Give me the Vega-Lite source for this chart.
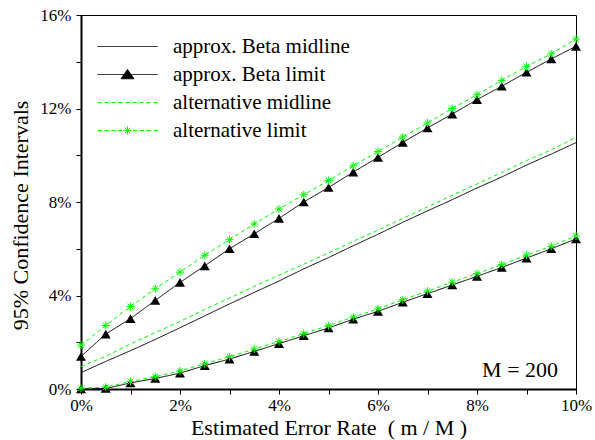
{
  "$schema": "https://vega.github.io/schema/vega-lite/v6.json",
  "width": 495,
  "height": 374,
  "autosize": {"type": "none"},
  "padding": {"left": 81, "top": 15, "right": 19, "bottom": 51},
  "background": "white",
  "config": {
    "view": {"stroke": "black", "strokeWidth": 1},
    "font": "Liberation Serif",
    "axis": {
      "grid": false,
      "domainColor": "black",
      "domainWidth": 2,
      "tickColor": "black",
      "tickWidth": 1,
      "tickSize": 5,
      "labelFont": "Liberation Serif",
      "labelFontSize": 17,
      "labelColor": "black",
      "titleFont": "Liberation Serif",
      "titleFontSize": 22,
      "titleFontWeight": "normal",
      "titleColor": "black"
    }
  },
  "datasets": {
    "curves": [
      {"x": 0, "s": "approx. Beta midline", "part": "mid", "y": 0.70},
      {"x": 0.5, "s": "approx. Beta midline", "part": "mid", "y": 1.18},
      {"x": 1, "s": "approx. Beta midline", "part": "mid", "y": 1.64},
      {"x": 1.5, "s": "approx. Beta midline", "part": "mid", "y": 2.12},
      {"x": 2, "s": "approx. Beta midline", "part": "mid", "y": 2.62},
      {"x": 2.5, "s": "approx. Beta midline", "part": "mid", "y": 3.13},
      {"x": 3, "s": "approx. Beta midline", "part": "mid", "y": 3.64},
      {"x": 3.5, "s": "approx. Beta midline", "part": "mid", "y": 4.13},
      {"x": 4, "s": "approx. Beta midline", "part": "mid", "y": 4.62},
      {"x": 4.5, "s": "approx. Beta midline", "part": "mid", "y": 5.14},
      {"x": 5, "s": "approx. Beta midline", "part": "mid", "y": 5.62},
      {"x": 5.5, "s": "approx. Beta midline", "part": "mid", "y": 6.13},
      {"x": 6, "s": "approx. Beta midline", "part": "mid", "y": 6.62},
      {"x": 6.5, "s": "approx. Beta midline", "part": "mid", "y": 7.13},
      {"x": 7, "s": "approx. Beta midline", "part": "mid", "y": 7.62},
      {"x": 7.5, "s": "approx. Beta midline", "part": "mid", "y": 8.10},
      {"x": 8, "s": "approx. Beta midline", "part": "mid", "y": 8.60},
      {"x": 8.5, "s": "approx. Beta midline", "part": "mid", "y": 9.07},
      {"x": 9, "s": "approx. Beta midline", "part": "mid", "y": 9.58},
      {"x": 9.5, "s": "approx. Beta midline", "part": "mid", "y": 10.05},
      {"x": 10, "s": "approx. Beta midline", "part": "mid", "y": 10.54},

      {"x": 0, "s": "approx. Beta limit", "part": "upper", "y": 1.39},
      {"x": 0.5, "s": "approx. Beta limit", "part": "upper", "y": 2.35},
      {"x": 1, "s": "approx. Beta limit", "part": "upper", "y": 3.01},
      {"x": 1.5, "s": "approx. Beta limit", "part": "upper", "y": 3.79},
      {"x": 2, "s": "approx. Beta limit", "part": "upper", "y": 4.56},
      {"x": 2.5, "s": "approx. Beta limit", "part": "upper", "y": 5.27},
      {"x": 3, "s": "approx. Beta limit", "part": "upper", "y": 6.00},
      {"x": 3.5, "s": "approx. Beta limit", "part": "upper", "y": 6.64},
      {"x": 4, "s": "approx. Beta limit", "part": "upper", "y": 7.30},
      {"x": 4.5, "s": "approx. Beta limit", "part": "upper", "y": 8.00},
      {"x": 5, "s": "approx. Beta limit", "part": "upper", "y": 8.62},
      {"x": 5.5, "s": "approx. Beta limit", "part": "upper", "y": 9.28},
      {"x": 6, "s": "approx. Beta limit", "part": "upper", "y": 9.91},
      {"x": 6.5, "s": "approx. Beta limit", "part": "upper", "y": 10.55},
      {"x": 7, "s": "approx. Beta limit", "part": "upper", "y": 11.17},
      {"x": 7.5, "s": "approx. Beta limit", "part": "upper", "y": 11.76},
      {"x": 8, "s": "approx. Beta limit", "part": "upper", "y": 12.38},
      {"x": 8.5, "s": "approx. Beta limit", "part": "upper", "y": 12.95},
      {"x": 9, "s": "approx. Beta limit", "part": "upper", "y": 13.55},
      {"x": 9.5, "s": "approx. Beta limit", "part": "upper", "y": 14.12},
      {"x": 10, "s": "approx. Beta limit", "part": "upper", "y": 14.66},

      {"x": 0, "s": "approx. Beta limit", "part": "lower", "y": 0.00},
      {"x": 0.5, "s": "approx. Beta limit", "part": "lower", "y": 0.02},
      {"x": 1, "s": "approx. Beta limit", "part": "lower", "y": 0.26},
      {"x": 1.5, "s": "approx. Beta limit", "part": "lower", "y": 0.45},
      {"x": 2, "s": "approx. Beta limit", "part": "lower", "y": 0.68},
      {"x": 2.5, "s": "approx. Beta limit", "part": "lower", "y": 1.00},
      {"x": 3, "s": "approx. Beta limit", "part": "lower", "y": 1.28},
      {"x": 3.5, "s": "approx. Beta limit", "part": "lower", "y": 1.61},
      {"x": 4, "s": "approx. Beta limit", "part": "lower", "y": 1.94},
      {"x": 4.5, "s": "approx. Beta limit", "part": "lower", "y": 2.28},
      {"x": 5, "s": "approx. Beta limit", "part": "lower", "y": 2.61},
      {"x": 5.5, "s": "approx. Beta limit", "part": "lower", "y": 2.99},
      {"x": 6, "s": "approx. Beta limit", "part": "lower", "y": 3.32},
      {"x": 6.5, "s": "approx. Beta limit", "part": "lower", "y": 3.71},
      {"x": 7, "s": "approx. Beta limit", "part": "lower", "y": 4.08},
      {"x": 7.5, "s": "approx. Beta limit", "part": "lower", "y": 4.45},
      {"x": 8, "s": "approx. Beta limit", "part": "lower", "y": 4.82},
      {"x": 8.5, "s": "approx. Beta limit", "part": "lower", "y": 5.20},
      {"x": 9, "s": "approx. Beta limit", "part": "lower", "y": 5.60},
      {"x": 9.5, "s": "approx. Beta limit", "part": "lower", "y": 6.00},
      {"x": 10, "s": "approx. Beta limit", "part": "lower", "y": 6.42},

      {"x": 0, "s": "alternative midline", "part": "mid", "y": 0.96},
      {"x": 0.5, "s": "alternative midline", "part": "mid", "y": 1.40},
      {"x": 1, "s": "alternative midline", "part": "mid", "y": 1.93},
      {"x": 1.5, "s": "alternative midline", "part": "mid", "y": 2.41},
      {"x": 2, "s": "alternative midline", "part": "mid", "y": 2.89},
      {"x": 2.5, "s": "alternative midline", "part": "mid", "y": 3.40},
      {"x": 3, "s": "alternative midline", "part": "mid", "y": 3.89},
      {"x": 3.5, "s": "alternative midline", "part": "mid", "y": 4.39},
      {"x": 4, "s": "alternative midline", "part": "mid", "y": 4.87},
      {"x": 4.5, "s": "alternative midline", "part": "mid", "y": 5.34},
      {"x": 5, "s": "alternative midline", "part": "mid", "y": 5.82},
      {"x": 5.5, "s": "alternative midline", "part": "mid", "y": 6.32},
      {"x": 6, "s": "alternative midline", "part": "mid", "y": 6.80},
      {"x": 6.5, "s": "alternative midline", "part": "mid", "y": 7.30},
      {"x": 7, "s": "alternative midline", "part": "mid", "y": 7.79},
      {"x": 7.5, "s": "alternative midline", "part": "mid", "y": 8.29},
      {"x": 8, "s": "alternative midline", "part": "mid", "y": 8.77},
      {"x": 8.5, "s": "alternative midline", "part": "mid", "y": 9.26},
      {"x": 9, "s": "alternative midline", "part": "mid", "y": 9.77},
      {"x": 9.5, "s": "alternative midline", "part": "mid", "y": 10.23},
      {"x": 10, "s": "alternative midline", "part": "mid", "y": 10.76},

      {"x": 0, "s": "alternative limit", "part": "upper", "y": 1.88},
      {"x": 0.5, "s": "alternative limit", "part": "upper", "y": 2.72},
      {"x": 1, "s": "alternative limit", "part": "upper", "y": 3.53},
      {"x": 1.5, "s": "alternative limit", "part": "upper", "y": 4.29},
      {"x": 2, "s": "alternative limit", "part": "upper", "y": 5.00},
      {"x": 2.5, "s": "alternative limit", "part": "upper", "y": 5.72},
      {"x": 3, "s": "alternative limit", "part": "upper", "y": 6.39},
      {"x": 3.5, "s": "alternative limit", "part": "upper", "y": 7.06},
      {"x": 4, "s": "alternative limit", "part": "upper", "y": 7.70},
      {"x": 4.5, "s": "alternative limit", "part": "upper", "y": 8.31},
      {"x": 5, "s": "alternative limit", "part": "upper", "y": 8.92},
      {"x": 5.5, "s": "alternative limit", "part": "upper", "y": 9.55},
      {"x": 6, "s": "alternative limit", "part": "upper", "y": 10.16},
      {"x": 6.5, "s": "alternative limit", "part": "upper", "y": 10.78},
      {"x": 7, "s": "alternative limit", "part": "upper", "y": 11.38},
      {"x": 7.5, "s": "alternative limit", "part": "upper", "y": 12.00},
      {"x": 8, "s": "alternative limit", "part": "upper", "y": 12.59},
      {"x": 8.5, "s": "alternative limit", "part": "upper", "y": 13.20},
      {"x": 9, "s": "alternative limit", "part": "upper", "y": 13.80},
      {"x": 9.5, "s": "alternative limit", "part": "upper", "y": 14.34},
      {"x": 10, "s": "alternative limit", "part": "upper", "y": 14.97},

      {"x": 0, "s": "alternative limit", "part": "lower", "y": 0.03},
      {"x": 0.5, "s": "alternative limit", "part": "lower", "y": 0.08},
      {"x": 1, "s": "alternative limit", "part": "lower", "y": 0.32},
      {"x": 1.5, "s": "alternative limit", "part": "lower", "y": 0.53},
      {"x": 2, "s": "alternative limit", "part": "lower", "y": 0.77},
      {"x": 2.5, "s": "alternative limit", "part": "lower", "y": 1.08},
      {"x": 3, "s": "alternative limit", "part": "lower", "y": 1.38},
      {"x": 3.5, "s": "alternative limit", "part": "lower", "y": 1.71},
      {"x": 4, "s": "alternative limit", "part": "lower", "y": 2.03},
      {"x": 4.5, "s": "alternative limit", "part": "lower", "y": 2.37},
      {"x": 5, "s": "alternative limit", "part": "lower", "y": 2.71},
      {"x": 5.5, "s": "alternative limit", "part": "lower", "y": 3.08},
      {"x": 6, "s": "alternative limit", "part": "lower", "y": 3.43},
      {"x": 6.5, "s": "alternative limit", "part": "lower", "y": 3.82},
      {"x": 7, "s": "alternative limit", "part": "lower", "y": 4.19},
      {"x": 7.5, "s": "alternative limit", "part": "lower", "y": 4.57},
      {"x": 8, "s": "alternative limit", "part": "lower", "y": 4.94},
      {"x": 8.5, "s": "alternative limit", "part": "lower", "y": 5.32},
      {"x": 9, "s": "alternative limit", "part": "lower", "y": 5.73},
      {"x": 9.5, "s": "alternative limit", "part": "lower", "y": 6.11},
      {"x": 10, "s": "alternative limit", "part": "lower", "y": 6.55}
    ],
    "note": [{"x": 8.87, "y": 0.83, "label": "M = 200"}]
  },
  "data": {"name": "curves"},
  "encoding": {
    "x": {
      "field": "x",
      "type": "quantitative",
      "scale": {"domain": [0, 10], "nice": false},
      "axis": {
        "values": [0, 1, 2, 3, 4, 5, 6, 7, 8, 9, 10],
        "labelExpr": "datum.value % 2 === 0 ? datum.value + '%' : ''",
        "labelPadding": 3,
        "labelFlush": false,
        "title": "Estimated Error Rate\u00a0\u00a0( m / M )",
        "titleY": 45,
        "titleBaseline": "alphabetic"
      }
    },
    "y": {
      "field": "y",
      "type": "quantitative",
      "scale": {"domain": [0, 16], "nice": false},
      "axis": {
        "values": [0, 2, 4, 6, 8, 10, 12, 14, 16],
        "labelExpr": "datum.value % 4 === 0 ? datum.value + '%' : ''",
        "labelPadding": 5,
        "labelFlush": false,
        "title": "95% Confidence Intervals",
        "titleX": -54,
        "titleY": 200,
        "titleAngle": -90,
        "titleAlign": "center",
        "titleBaseline": "alphabetic"
      }
    }
  },
  "layer": [
    {
      "mark": {"type": "line", "strokeWidth": 1},
      "encoding": {
        "detail": {"field": "part"},
        "color": {
          "field": "s",
          "type": "nominal",
          "sort": null,
          "scale": {
            "domain": ["approx. Beta midline", "approx. Beta limit", "alternative midline", "alternative limit"],
            "range": ["black", "black", "#00ff00", "#00ff00"]
          },
          "legend": {
            "title": null,
            "orient": "none",
            "legendX": 36,
            "legendY": 21,
            "padding": 0,
            "symbolSize": 100,
            "symbolStrokeWidth": 1,
            "labelOffset": 35,
            "labelFont": "Liberation Serif",
            "labelFontSize": 21,
            "labelColor": "black",
            "labelLimit": 400,
            "rowPadding": 6,
            "encode": {
              "symbols": {
                "update": {
                  "shape": {"signal": "datum.value === 'approx. Beta limit' ? 'M-6,0H6M0,-1L1.3,0.85L-1.3,0.85Z' : datum.value === 'alternative limit' ? 'M-6,0H-1.1M1.1,0H6M0,0V-0.9M0,0V0.9M0,0H0.9M0,0H-0.9M0,0L0.65,0.65M0,0L-0.65,-0.65M0,0L0.65,-0.65M0,0L-0.65,0.65' : 'M-6,0H6'"},
                  "fill": {"signal": "datum.value === 'approx. Beta limit' ? 'black' : 'transparent'"},
                  "strokeDash": {"signal": "indexof(datum.value, 'alternative') === 0 ? [4, 3] : [1, 0]"},
                  "opacity": {"value": 1}
                }
              }
            }
          }
        },
        "strokeDash": {
          "field": "s",
          "type": "nominal",
          "sort": null,
          "scale": {
            "domain": ["approx. Beta midline", "approx. Beta limit", "alternative midline", "alternative limit"],
            "range": [[1, 0], [1, 0], [4, 3], [4, 3]]
          },
          "legend": null
        }
      }
    },
    {
      "transform": [{"filter": "datum.s === 'approx. Beta limit'"}],
      "mark": {"type": "point", "shape": "triangle-up", "filled": true, "color": "black", "size": 100, "opacity": 1}
    },
    {
      "transform": [{"filter": "datum.s === 'alternative limit'"}],
      "mark": {"type": "point", "shape": "M0,-1V1M-1,0H1M-0.7,-0.7L0.7,0.7M-0.7,0.7L0.7,-0.7", "filled": false, "color": "#00ff00", "strokeWidth": 1, "size": 64, "opacity": 1}
    },
    {
      "data": {"name": "note"},
      "mark": {"type": "text", "font": "Liberation Serif", "fontSize": 22, "color": "black", "align": "center", "baseline": "middle"},
      "encoding": {
        "x": {"field": "x", "type": "quantitative"},
        "y": {"field": "y", "type": "quantitative"},
        "text": {"field": "label"}
      }
    }
  ]
}
